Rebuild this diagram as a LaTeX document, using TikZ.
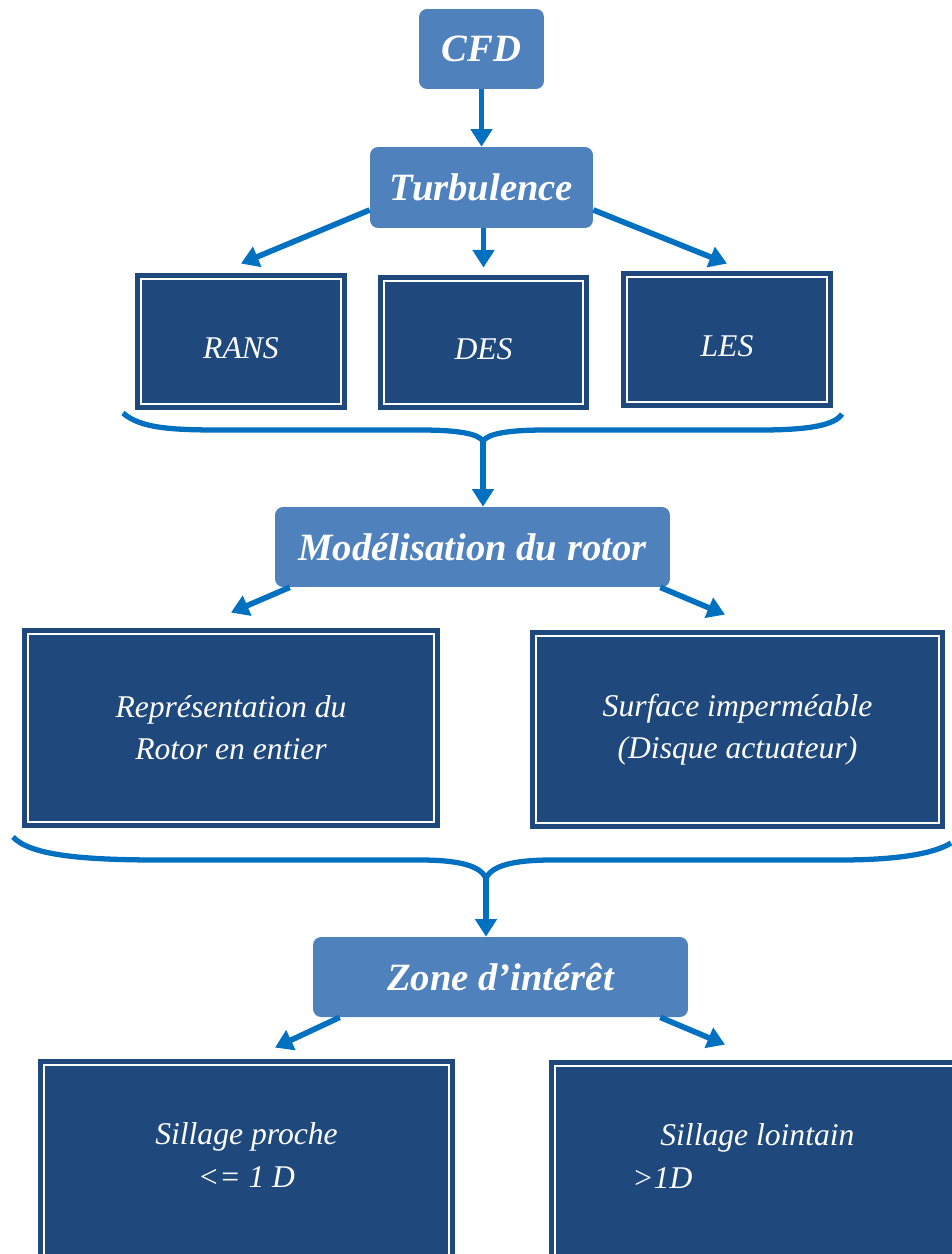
\documentclass[tikz,border=0pt]{standalone}
\usepackage{fontspec}
\setmainfont{Liberation Serif}
\usetikzlibrary{arrows.meta}

\definecolor{headblue}{HTML}{4F81BD}
\definecolor{boxblue}{HTML}{1F497D}
\definecolor{flowblue}{HTML}{0070C0}

\begin{document}
\begin{tikzpicture}[x=0.02cm, y=-0.02cm,
  head/.style={fill=headblue, rounded corners=0.16cm, text=white,
    font=\fontsize{22}{26}\selectfont\bfseries\itshape},
  box/.style={fill=boxblue, draw=boxblue, line width=2.8pt, double=white,
    double distance=1.1pt, text=white, align=center,
    font=\fontsize{18}{24}\selectfont\itshape},
  smallbox/.style={box, minimum width=4cm, minimum height=2.5cm, text height=19pt},
  bodytext/.style={text=white, inner sep=0pt, font=\fontsize{18}{24}\selectfont\itshape},
  flow/.style={draw=flowblue, line width=3.2pt, -{Triangle[width=12pt,length=10pt]}},
  brace/.style={draw=flowblue, line width=3pt}]
\useasboundingbox (0,0) rectangle (952,1254);

% level 1 and 2
\node[head, minimum width=2.5cm, minimum height=1.6cm] (cfd) at (481.5,49) {CFD};
\node[head, minimum width=4.46cm, minimum height=1.62cm] (turb) at (481.5,187.5) {Turbulence};

\node[smallbox] (rans) at (241,341.5) {RANS};
\node[smallbox, minimum width=3.98cm, minimum height=2.46cm] (des) at (483.5,342.5) {DES};
\node[smallbox] (les) at (727,339.5) {LES};

\draw[flow] (cfd.south) -- (turb.north);
\draw[flow] ([yshift=-0.45cm]turb.west) -- ([yshift=0.26cm]rans.north);
\draw[flow] (turb.south -| des.north) -- ([yshift=0.22cm]des.north);
\draw[flow] ([yshift=-0.45cm]turb.east) -- ([yshift=0.22cm]les.north);

\coordinate (cusp1) at (483,441);
\draw[brace] (123,413) .. controls (140,428) and (170,430) .. (220,430) -- (420,430)
  .. controls (460,430) and (478,434) .. (cusp1)
  .. controls (488,434) and (506,430) .. (546,430) -- (760,430)
  .. controls (810,430) and (835,425) .. (842,414);

% rotor
\node[head, minimum width=7.9cm, minimum height=1.6cm] (model) at (472.5,547) {Modélisation du rotor};
\draw[flow] (cusp1) -- (cusp1 |- model.north);

\node[box, minimum width=8.12cm, minimum height=3.76cm] (repr) at (231,728)
  {Représentation du\\Rotor en entier};
\node[box, minimum width=8.06cm, minimum height=3.74cm] (surf) at (737.5,729.5)
  {Surface imperméable\\(Disque actuateur)};

\draw[flow] ([xshift=0.3cm]model.south west) -- ([yshift=0.38cm]repr.north);
\draw[flow] ([xshift=-0.2cm]model.south east) -- ([shift={(-0.25cm,0.38cm)}]surf.north);

\coordinate (cusp2) at (486,878);
\draw[brace] (13,837) .. controls (30,855) and (80,860) .. (160,860) -- (420,860)
  .. controls (460,860) and (480,866) .. (cusp2)
  .. controls (492,866) and (512,860) .. (552,860) -- (840,860)
  .. controls (900,860) and (935,853) .. (951,843);

% zone
\node[head, minimum width=7.5cm, minimum height=1.6cm] (zone) at (500.5,977) {Zone d’intérêt};
\draw[flow] (cusp2) -- (cusp2 |- zone.north);

\node[box, minimum width=8.1cm, minimum height=6cm] (proche) at (246.5,1215) {};
\node[box, minimum width=8.8cm, minimum height=6cm] (lointain) at (775,1216) {};
\node[bodytext, align=center] (procheTxt) at (246.5,1155) {Sillage proche\\<= 1 D};
\node[bodytext, align=left, anchor=west] (lointainTxt) at (632,1156)
  {\hspace*{0.56cm}Sillage lointain\\>1D};

\draw[flow] ([xshift=0.54cm]zone.south west) -- ([shift={(0.57cm,0.3cm)}]proche.north);
\draw[flow] ([xshift=-0.56cm]zone.south east) -- ([shift={(-1cm,0.38cm)}]lointain.north);
\end{tikzpicture}
\end{document}
